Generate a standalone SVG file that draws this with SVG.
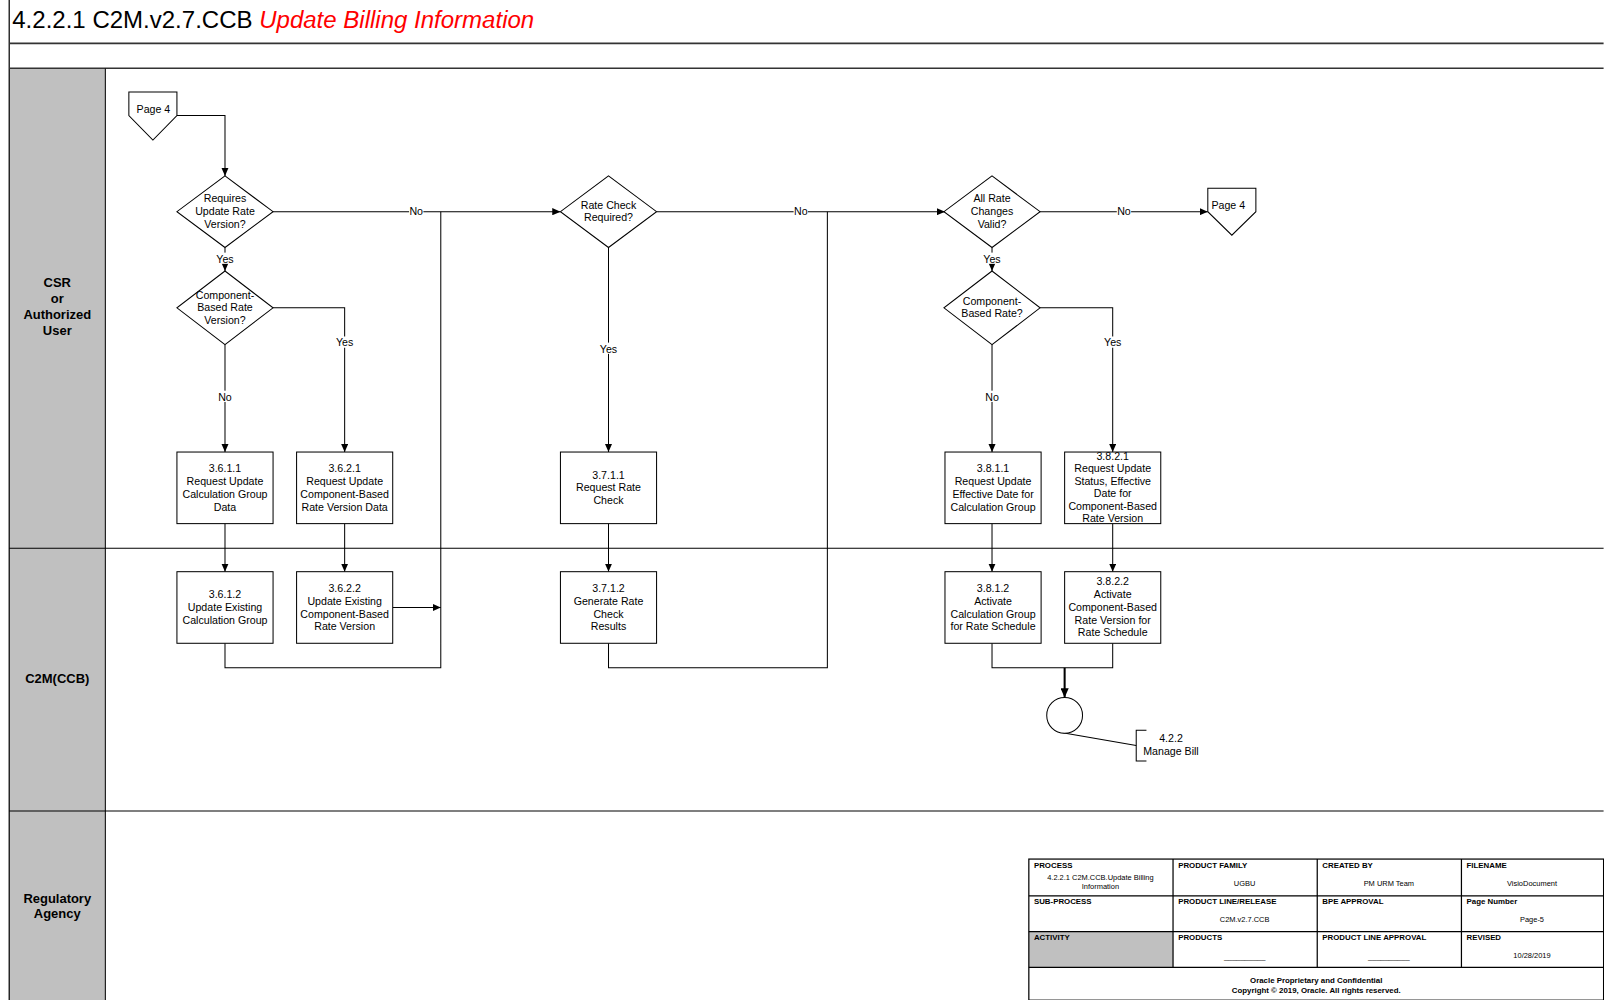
<svg xmlns="http://www.w3.org/2000/svg" width="1604" height="1000" viewBox="0 0 1604 1000">
<defs>
<style>
.t{font-family:"Liberation Sans",Arial,sans-serif;font-size:10.4px;fill:#000;text-anchor:middle}
.lane{font-family:"Liberation Sans",Arial,sans-serif;font-size:12.7px;font-weight:bold;fill:#000;text-anchor:middle}
.hd{font-family:"Liberation Sans",Arial,sans-serif;font-size:7.7px;font-weight:bold;fill:#000}
.val{font-family:"Liberation Sans",Arial,sans-serif;font-size:7.3px;fill:#000;text-anchor:middle}
.box{fill:#fff;stroke:#000;stroke-width:1}
.ln{fill:none;stroke:#000;stroke-width:1}
.arr{fill:none;stroke:#000;stroke-width:1;marker-end:url(#ah)}
.bg{fill:#fff}
.frame{fill:none;stroke:#000;stroke-width:1.2}
</style>
<marker id="ah" markerUnits="userSpaceOnUse" markerWidth="8" markerHeight="7" refX="8" refY="3.5" orient="auto">
<path d="M0,0 L8,3.5 L0,7 z" fill="#000"/>
</marker>
<marker id="ah2" markerUnits="userSpaceOnUse" markerWidth="9" markerHeight="8" refX="9" refY="4" orient="auto">
<path d="M0,0 L9,4 L0,8 z" fill="#000"/>
</marker>
</defs>
<rect x="0" y="0" width="1604" height="1000" fill="#fff"/>
<g transform="scale(1.0227)">
<g id="frame">
<rect x="9" y="67" width="94" height="911" fill="#c0c0c0"/>
<line x1="9" y1="0" x2="9" y2="978" stroke="#000" stroke-width="1.2"/>
<line x1="9" y1="42.4" x2="1568" y2="42.4" stroke="#333" stroke-width="1.5"/>
<line x1="9" y1="66.8" x2="1568" y2="66.8" stroke="#333" stroke-width="1.5"/>
<line x1="103" y1="67" x2="103" y2="978" stroke="#000" stroke-width="1"/>
<line x1="9" y1="536" x2="1568" y2="536" stroke="#000" stroke-width="1"/>
<line x1="9" y1="793" x2="1568" y2="793" stroke="#000" stroke-width="1"/>
<text x="12" y="27" font-family="Liberation Sans,Arial,sans-serif" font-size="23.5px" fill="#000">4.2.2.1 C2M.v2.7.CCB <tspan fill="#ff0000" font-style="italic">Update Billing Information</tspan></text>
</g>
<g id="lanes">
<text class="lane" x="56" y="281">CSR<tspan x="56" dy="15.5">or</tspan><tspan x="56" dy="15.5">Authorized</tspan><tspan x="56" dy="15.5">User</tspan></text>
<text class="lane" x="56" y="668">C2M(CCB)</text>
<text class="lane" x="56" y="882.5">Regulatory<tspan x="56" dy="15.5">Agency</tspan></text>
</g>
<g id="connectors">
<path class="arr" d="M173,113 H220 V172"/>
<path class="arr" d="M267,207 H548"/>
<path class="ln" d="M220,629 V653 H431 V207"/>
<path class="arr" d="M384,594 H431"/>
<path class="arr" d="M220,242 V265"/>
<path class="arr" d="M220,337 V442"/>
<path class="arr" d="M267,301 H337 V442"/>
<path class="arr" d="M220,512 V559"/>
<path class="arr" d="M337,512 V559"/>
<path class="arr" d="M642,207 H924"/>
<path class="ln" d="M595,629 V653 H809 V207"/>
<path class="arr" d="M595,242 V442"/>
<path class="arr" d="M595,512 V559"/>
<path class="arr" d="M1017,207 H1181"/>
<path class="arr" d="M970,242 V265"/>
<path class="arr" d="M970,337 V442"/>
<path class="arr" d="M1017,301 H1088 V442"/>
<path class="arr" d="M970,512 V559"/>
<path class="arr" d="M1088,512 V559"/>
<path class="ln" d="M970,629 V653 H1088 V629"/>
<path d="M1041,653 V682" fill="none" stroke="#000" stroke-width="2" marker-end="url(#ah2)"/>
<path class="ln" d="M1039,716.5 L1111,729"/>
<g id="labels">
<rect class="bg" x="400" y="201" width="14" height="11"/><text class="t" x="407" y="210.7">No</text>
<rect class="bg" x="776" y="201" width="14" height="11"/><text class="t" x="783" y="210.7">No</text>
<rect class="bg" x="1092" y="201" width="14" height="11"/><text class="t" x="1099" y="210.7">No</text>
<rect class="bg" x="211" y="247" width="18" height="11"/><text class="t" x="220" y="256.7">Yes</text>
<rect class="bg" x="961" y="247" width="18" height="11"/><text class="t" x="970" y="256.7">Yes</text>
<rect class="bg" x="328" y="329" width="18" height="11"/><text class="t" x="337" y="338.7">Yes</text>
<rect class="bg" x="1079" y="329" width="18" height="11"/><text class="t" x="1088" y="338.7">Yes</text>
<rect class="bg" x="586" y="335" width="18" height="11"/><text class="t" x="595" y="344.7">Yes</text>
<rect class="bg" x="213" y="382" width="14" height="11"/><text class="t" x="220" y="391.7">No</text>
<rect class="bg" x="963" y="382" width="14" height="11"/><text class="t" x="970" y="391.7">No</text>
</g>
</g>
<g id="page4-in">
<path class="box" d="M126,90 H173 V113 L149.5,137 L126,113 Z"/>
<text class="t" x="150" y="110.5">Page 4</text>
</g>
<g id="d-requires-update">
<path class="box" d="M220,172 L267,207 L220,242 L173,207 Z"/>
<text class="t" x="220" y="198">Requires<tspan x="220" dy="12.4">Update Rate</tspan><tspan x="220" dy="12.4">Version?</tspan></text>
</g>
<g id="d-component-version">
<path class="box" d="M220,265 L267,301 L220,337 L173,301 Z"/>
<text class="t" x="220" y="292">Component-<tspan x="220" dy="12.4">Based Rate</tspan><tspan x="220" dy="12.4">Version?</tspan></text>
</g>
<g id="n3611">
<rect class="box" x="173" y="442" width="94" height="70"/>
<text class="t" x="220" y="462">3.6.1.1<tspan x="220" dy="12.4">Request Update</tspan><tspan x="220" dy="12.4">Calculation Group</tspan><tspan x="220" dy="12.4">Data</tspan></text>
</g>
<g id="n3621">
<rect class="box" x="290" y="442" width="94" height="70"/>
<text class="t" x="337" y="462">3.6.2.1<tspan x="337" dy="12.4">Request Update</tspan><tspan x="337" dy="12.4">Component-Based</tspan><tspan x="337" dy="12.4">Rate Version Data</tspan></text>
</g>
<g id="n3612">
<rect class="box" x="173" y="559" width="94" height="70"/>
<text class="t" x="220" y="585">3.6.1.2<tspan x="220" dy="12.4">Update Existing</tspan><tspan x="220" dy="12.4">Calculation Group</tspan></text>
</g>
<g id="n3622">
<rect class="box" x="290" y="559" width="94" height="70"/>
<text class="t" x="337" y="579">3.6.2.2<tspan x="337" dy="12.4">Update Existing</tspan><tspan x="337" dy="12.4">Component-Based</tspan><tspan x="337" dy="12.4">Rate Version</tspan></text>
</g>
<g id="d-rate-check">
<path class="box" d="M595,172 L642,207 L595,242 L548,207 Z"/>
<text class="t" x="595" y="204">Rate Check<tspan x="595" dy="12.4">Required?</tspan></text>
</g>
<g id="n3711">
<rect class="box" x="548" y="442" width="94" height="70"/>
<text class="t" x="595" y="468">3.7.1.1<tspan x="595" dy="12.4">Request Rate</tspan><tspan x="595" dy="12.4">Check</tspan></text>
</g>
<g id="n3712">
<rect class="box" x="548" y="559" width="94" height="70"/>
<text class="t" x="595" y="579">3.7.1.2<tspan x="595" dy="12.4">Generate Rate</tspan><tspan x="595" dy="12.4">Check</tspan><tspan x="595" dy="12.4">Results</tspan></text>
</g>
<g id="d-all-valid">
<path class="box" d="M970,172 L1017,207 L970,242 L923,207 Z"/>
<text class="t" x="970" y="198">All Rate<tspan x="970" dy="12.4">Changes</tspan><tspan x="970" dy="12.4">Valid?</tspan></text>
</g>
<g id="page4-out">
<path class="box" d="M1181,184 H1228 V207 L1204.5,230 L1181,207 Z"/>
<text class="t" x="1201" y="204.5">Page 4</text>
</g>
<g id="d-component-rate">
<path class="box" d="M970,265 L1017,301 L970,337 L923,301 Z"/>
<text class="t" x="970" y="298.5">Component-<tspan x="970" dy="11.5">Based Rate?</tspan></text>
</g>
<g id="n3811">
<rect class="box" x="924" y="442" width="94" height="70"/>
<text class="t" x="971" y="462">3.8.1.1<tspan x="971" dy="12.4">Request Update</tspan><tspan x="971" dy="12.4">Effective Date for</tspan><tspan x="971" dy="12.4">Calculation Group</tspan></text>
</g>
<g id="n3821">
<rect class="box" x="1041" y="442" width="94" height="70"/>
<text class="t" x="1088" y="449.5">3.8.2.1<tspan x="1088" dy="12.2">Request Update</tspan><tspan x="1088" dy="12.2">Status, Effective</tspan><tspan x="1088" dy="12.2">Date for</tspan><tspan x="1088" dy="12.2">Component-Based</tspan><tspan x="1088" dy="12.2">Rate Version</tspan></text>
</g>
<g id="n3812">
<rect class="box" x="924" y="559" width="94" height="70"/>
<text class="t" x="971" y="579">3.8.1.2<tspan x="971" dy="12.4">Activate</tspan><tspan x="971" dy="12.4">Calculation Group</tspan><tspan x="971" dy="12.4">for Rate Schedule</tspan></text>
</g>
<g id="n3822">
<rect class="box" x="1041" y="559" width="94" height="70"/>
<text class="t" x="1088" y="572.5">3.8.2.2<tspan x="1088" dy="12.4">Activate</tspan><tspan x="1088" dy="12.4">Component-Based</tspan><tspan x="1088" dy="12.4">Rate Version for</tspan><tspan x="1088" dy="12.4">Rate Schedule</tspan></text>
</g>
<g id="end-manage-bill">
<circle class="box" cx="1041" cy="699.5" r="17.5"/>
<path class="ln" d="M1121,714 H1111 V744 H1121"/>
<text class="t" x="1145" y="725.5">4.2.2<tspan x="1145" dy="12.8">Manage Bill</tspan></text>
</g>
<g id="footer">
<rect x="1006" y="911" width="141" height="35" fill="#c0c0c0"/>
<rect class="frame" x="1006" y="840" width="562" height="138"/>
<path class="frame" d="M1006,876 H1568 M1006,911 H1568 M1006,946 H1568 M1147,840 V946 M1288,840 V946 M1429,840 V946"/>
<text class="hd" x="1011" y="848.5">PROCESS</text>
<text class="hd" x="1152" y="848.5">PRODUCT FAMILY</text>
<text class="hd" x="1293" y="848.5">CREATED BY</text>
<text class="hd" x="1434" y="848.5">FILENAME</text>
<text class="val" x="1076" y="860.5">4.2.2.1 C2M.CCB.Update Billing</text>
<text class="val" x="1076" y="869">Information</text>
<text class="val" x="1217" y="866.5">UGBU</text>
<text class="val" x="1358" y="866.5">PM URM Team</text>
<text class="val" x="1498" y="866.5">VisioDocument</text>
<text class="hd" x="1011" y="884">SUB-PROCESS</text>
<text class="hd" x="1152" y="884">PRODUCT LINE/RELEASE</text>
<text class="hd" x="1293" y="884">BPE APPROVAL</text>
<text class="hd" x="1434" y="884">Page Number</text>
<text class="val" x="1217" y="901.5">C2M.v2.7.CCB</text>
<text class="val" x="1498" y="901.5">Page-5</text>
<text class="hd" x="1011" y="919">ACTIVITY</text>
<text class="hd" x="1152" y="919">PRODUCTS</text>
<text class="hd" x="1293" y="919">PRODUCT LINE APPROVAL</text>
<text class="hd" x="1434" y="919">REVISED</text>
<text class="val" x="1217" y="937.5">__________</text>
<text class="val" x="1358" y="937.5">__________</text>
<text class="val" x="1498" y="937">10/28/2019</text>
<text class="hd" x="1287" y="961" text-anchor="middle">Oracle Proprietary and Confidential</text>
<text class="hd" x="1287" y="971" text-anchor="middle">Copyright © 2019, Oracle. All rights reserved.</text>
</g>
</g>
</svg>
